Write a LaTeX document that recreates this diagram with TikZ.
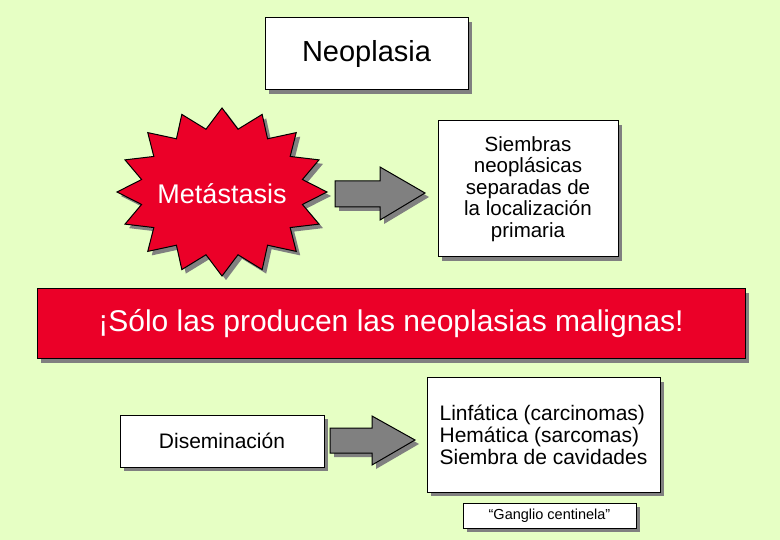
\documentclass[tikz,border=0pt]{standalone}
\usepackage{fontspec}
\setmainfont{Liberation Sans}
\definecolor{bg}{RGB}{230,255,196}
\definecolor{redc}{RGB}{235,0,40}
\definecolor{shad}{RGB}{128,128,128}
\definecolor{arr}{RGB}{128,128,128}
\begin{document}
\begin{tikzpicture}[x=1pt,y=-1pt,
  boxs/.style={draw=black,fill=white,line width=1pt,inner sep=0pt},
  shd/.style={fill=shad,draw=none}]
\useasboundingbox (0,0) rectangle (780,540);
\fill[bg] (0,0) rectangle (780,540);
% shadows
\foreach \a/\b/\c/\d in {265/18/468/90, 438/121/618/257, 37/289/745/359, 120/415/324/467, 427/378/660/492, 463/503/636/528}
  \fill[shd] (\a+4,\b+4) rectangle (\c+4,\d+4);
% star
\def\starpath{plot[samples at={0,...,31}] ({222+(mod(\x,2)==0 ? 105 : 82)*cos(\x*11.25)}, {192+(mod(\x,2)==0 ? 84 : 64)*sin(\x*11.25)}) -- cycle}
\fill[shd,shift={(4,4)}] \starpath;
\draw[fill=redc,line width=1pt] \starpath;
\node[text=white,font=\fontsize{27}{30}\selectfont] (met) at (222,194) {Metástasis};
% boxes
\node[boxs,minimum width=203,minimum height=72] (neo) at (366.5,54) {\fontsize{29}{32}\selectfont Neoplasia};
\node[boxs,minimum width=180,minimum height=136,align=center,font=\fontsize{20.5}{21.5}\selectfont] (sie) at (528,189) {Siembras\\neoplásicas\\separadas de\\la localización\\primaria};
\node[draw=black,fill=redc,line width=1pt,minimum width=708,minimum height=70,text=white,font=\fontsize{30}{32}\selectfont] (band) at (391,324) {¡Sólo las producen las neoplasias malignas!};
\node[boxs,minimum width=204,minimum height=52,font=\fontsize{21}{24}\selectfont] (dis) at (222,441) {Diseminación};
\node[boxs,minimum width=233,minimum height=114,align=left,font=\fontsize{21}{22}\selectfont] (lin) at (543.5,435) {Linfática (carcinomas)\\Hemática (sarcomas)\\Siembra de cavidades};
\node[boxs,minimum width=173,minimum height=25,font=\fontsize{14.5}{16}\selectfont] (gan) at (549.5,515.5) {“Ganglio centinela”};
% arrows
\fill[shd,shift={(4,4)}] (335,181) -- (380,181) -- (380,167) -- (425,193) -- (380,220) -- (380,207) -- (335,207) -- cycle;
\draw[fill=arr,line width=1pt] (335,181) -- (380,181) -- (380,167) -- (425,193) -- (380,220) -- (380,207) -- (335,207) -- cycle;
\fill[shd,shift={(4,4)}] (330,428) -- (372,428) -- (372,416) -- (415,440) -- (372,465) -- (372,453) -- (330,453) -- cycle;
\draw[fill=arr,line width=1pt] (330,428) -- (372,428) -- (372,416) -- (415,440) -- (372,465) -- (372,453) -- (330,453) -- cycle;
\end{tikzpicture}
\end{document}
